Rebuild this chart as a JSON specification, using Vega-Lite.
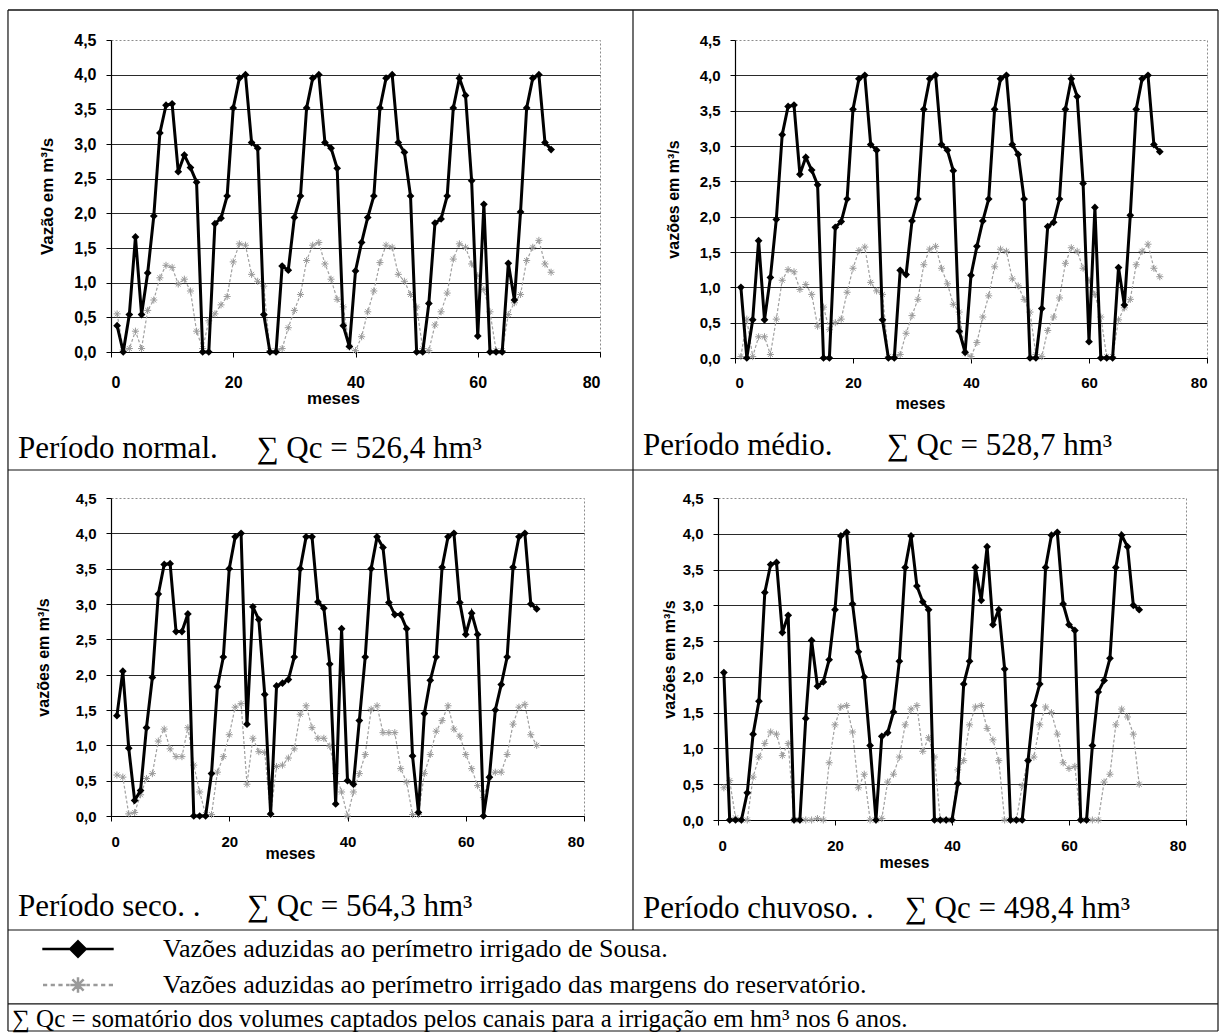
{
  "$schema": "https://vega.github.io/schema/vega-lite/v6.json",
  "autosize": "none",
  "padding": {"left": 111, "top": 40, "right": 1110, "bottom": 993},
  "background": "white",
  "config": {
    "locale": {"number": {"decimal": ",", "thousands": ".", "grouping": [3], "currency": ["", ""]}},
    "font": "Liberation Sans",
    "view": {"stroke": "#8c8c8c", "strokeDash": [2, 2], "strokeWidth": 1},
    "axis": {"labelFont": "Liberation Sans", "labelFontWeight": "bold", "labelColor": "#000", "labelFontSize": 15, "labelOverlap": false, "titleFont": "Liberation Sans", "titleFontWeight": "bold", "titleColor": "#000", "titleFontSize": 16, "domainColor": "#000", "domainWidth": 1.2, "tickColor": "#000", "tickSize": 5, "gridColor": "#2a2a2a", "gridWidth": 1},
    "title": {"font": "Liberation Serif", "fontSize": 31, "fontWeight": "normal", "color": "#000"},
    "legend": {"orient": "none", "legendX": -99, "legendY": 893.5, "symbolSize": 784, "symbolStrokeWidth": 2.5, "symbolOffset": 50.5, "labelOffset": 69.5, "labelFont": "Liberation Serif", "labelFontSize": 26, "labelColor": "#000", "labelLimit": 1200, "rowPadding": 7, "titleOrient": "bottom", "titleAnchor": "start", "titleFont": "Liberation Serif", "titleFontSize": 25, "titleFontWeight": "normal", "titleColor": "#000", "titleLimit": 1200, "titlePadding": 8, "symbolOpacity": 1}
  },
  "datasets": {
    "normal": [
      {"m":1,"sousa":0.38,"margens":0.55},{"m":2,"sousa":0,"margens":0.03},{"m":3,"sousa":0.54,"margens":0.05},{"m":4,"sousa":1.66,"margens":0.3},{"m":5,"sousa":0.54,"margens":0.05},{"m":6,"sousa":1.14,"margens":0.6},{"m":7,"sousa":1.96,"margens":0.75},{"m":8,"sousa":3.16,"margens":1.07},{"m":9,"sousa":3.56,"margens":1.25},{"m":10,"sousa":3.58,"margens":1.22},{"m":11,"sousa":2.6,"margens":0.98},{"m":12,"sousa":2.84,"margens":1.05},
      {"m":13,"sousa":2.66,"margens":0.88},{"m":14,"sousa":2.45,"margens":0.3},{"m":15,"sousa":0,"margens":0.05},{"m":16,"sousa":0,"margens":0.45},{"m":17,"sousa":1.85,"margens":0.55},{"m":18,"sousa":1.93,"margens":0.68},{"m":19,"sousa":2.25,"margens":0.8},{"m":20,"sousa":3.52,"margens":1.3},{"m":21,"sousa":3.95,"margens":1.56},{"m":22,"sousa":4.0,"margens":1.54},{"m":23,"sousa":3.02,"margens":1.12},{"m":24,"sousa":2.94,"margens":1.02},
      {"m":25,"sousa":0.54,"margens":0.95},{"m":26,"sousa":0,"margens":0.02},{"m":27,"sousa":0,"margens":0.02},{"m":28,"sousa":1.24,"margens":0.05},{"m":29,"sousa":1.18,"margens":0.35},{"m":30,"sousa":1.94,"margens":0.6},{"m":31,"sousa":2.25,"margens":0.83},{"m":32,"sousa":3.52,"margens":1.32},{"m":33,"sousa":3.95,"margens":1.54},{"m":34,"sousa":4.0,"margens":1.58},{"m":35,"sousa":3.02,"margens":1.27},{"m":36,"sousa":2.94,"margens":1.05},
      {"m":37,"sousa":2.65,"margens":0.76},{"m":38,"sousa":0.38,"margens":0.65},{"m":39,"sousa":0.08,"margens":0.07},{"m":40,"sousa":1.17,"margens":0.02},{"m":41,"sousa":1.58,"margens":0.22},{"m":42,"sousa":1.94,"margens":0.58},{"m":43,"sousa":2.25,"margens":0.88},{"m":44,"sousa":3.52,"margens":1.29},{"m":45,"sousa":3.95,"margens":1.54},{"m":46,"sousa":4.0,"margens":1.51},{"m":47,"sousa":3.02,"margens":1.12},{"m":48,"sousa":2.88,"margens":1.02},
      {"m":49,"sousa":2.25,"margens":0.83},{"m":50,"sousa":0,"margens":0.65},{"m":51,"sousa":0,"margens":0.05},{"m":52,"sousa":0.7,"margens":0.02},{"m":53,"sousa":1.86,"margens":0.39},{"m":54,"sousa":1.92,"margens":0.58},{"m":55,"sousa":2.25,"margens":0.85},{"m":56,"sousa":3.52,"margens":1.34},{"m":57,"sousa":3.95,"margens":1.56},{"m":58,"sousa":3.7,"margens":1.51},{"m":59,"sousa":2.47,"margens":1.27},{"m":60,"sousa":0.23,"margens":1.1},
      {"m":61,"sousa":2.13,"margens":0.9},{"m":62,"sousa":0,"margens":0.58},{"m":63,"sousa":0,"margens":0.02},{"m":64,"sousa":0,"margens":0.02},{"m":65,"sousa":1.28,"margens":0.54},{"m":66,"sousa":0.75,"margens":0.71},{"m":67,"sousa":2.02,"margens":0.83},{"m":68,"sousa":3.52,"margens":1.32},{"m":69,"sousa":3.95,"margens":1.51},{"m":70,"sousa":4.0,"margens":1.61},{"m":71,"sousa":3.02,"margens":1.27},{"m":72,"sousa":2.92,"margens":1.15}
    ],
    "medio": [
      {"m":1,"sousa":1.0,"margens":0.02},{"m":2,"sousa":0,"margens":0.55},{"m":3,"sousa":0.54,"margens":0.02},{"m":4,"sousa":1.66,"margens":0.3},{"m":5,"sousa":0.54,"margens":0.3},{"m":6,"sousa":1.14,"margens":0.05},{"m":7,"sousa":1.96,"margens":0.55},{"m":8,"sousa":3.16,"margens":1.1},{"m":9,"sousa":3.56,"margens":1.25},{"m":10,"sousa":3.58,"margens":1.22},{"m":11,"sousa":2.6,"margens":0.97},{"m":12,"sousa":2.84,"margens":1.04},
      {"m":13,"sousa":2.66,"margens":0.9},{"m":14,"sousa":2.45,"margens":0.45},{"m":15,"sousa":0,"margens":0.72},{"m":16,"sousa":0,"margens":0.4},{"m":17,"sousa":1.85,"margens":0.5},{"m":18,"sousa":1.93,"margens":0.55},{"m":19,"sousa":2.25,"margens":0.93},{"m":20,"sousa":3.52,"margens":1.27},{"m":21,"sousa":3.95,"margens":1.52},{"m":22,"sousa":4.0,"margens":1.57},{"m":23,"sousa":3.02,"margens":1.07},{"m":24,"sousa":2.94,"margens":0.95},
      {"m":25,"sousa":0.54,"margens":0.9},{"m":26,"sousa":0,"margens":0.02},{"m":27,"sousa":0,"margens":0.02},{"m":28,"sousa":1.24,"margens":0.05},{"m":29,"sousa":1.18,"margens":0.35},{"m":30,"sousa":1.94,"margens":0.6},{"m":31,"sousa":2.25,"margens":0.83},{"m":32,"sousa":3.52,"margens":1.32},{"m":33,"sousa":3.95,"margens":1.54},{"m":34,"sousa":4.0,"margens":1.58},{"m":35,"sousa":3.02,"margens":1.27},{"m":36,"sousa":2.94,"margens":1.05},
      {"m":37,"sousa":2.65,"margens":0.76},{"m":38,"sousa":0.38,"margens":0.65},{"m":39,"sousa":0.08,"margens":0.07},{"m":40,"sousa":1.17,"margens":0.02},{"m":41,"sousa":1.58,"margens":0.22},{"m":42,"sousa":1.94,"margens":0.58},{"m":43,"sousa":2.25,"margens":0.88},{"m":44,"sousa":3.52,"margens":1.29},{"m":45,"sousa":3.95,"margens":1.54},{"m":46,"sousa":4.0,"margens":1.51},{"m":47,"sousa":3.02,"margens":1.12},{"m":48,"sousa":2.88,"margens":1.02},
      {"m":49,"sousa":2.25,"margens":0.83},{"m":50,"sousa":0,"margens":0.65},{"m":51,"sousa":0,"margens":0.05},{"m":52,"sousa":0.7,"margens":0.02},{"m":53,"sousa":1.86,"margens":0.39},{"m":54,"sousa":1.92,"margens":0.58},{"m":55,"sousa":2.25,"margens":0.85},{"m":56,"sousa":3.52,"margens":1.34},{"m":57,"sousa":3.95,"margens":1.56},{"m":58,"sousa":3.7,"margens":1.51},{"m":59,"sousa":2.47,"margens":1.27},{"m":60,"sousa":0.23,"margens":1.1},
      {"m":61,"sousa":2.13,"margens":0.9},{"m":62,"sousa":0,"margens":0.58},{"m":63,"sousa":0,"margens":0.02},{"m":64,"sousa":0,"margens":0.02},{"m":65,"sousa":1.28,"margens":0.54},{"m":66,"sousa":0.75,"margens":0.71},{"m":67,"sousa":2.02,"margens":0.83},{"m":68,"sousa":3.52,"margens":1.32},{"m":69,"sousa":3.95,"margens":1.51},{"m":70,"sousa":4.0,"margens":1.61},{"m":71,"sousa":3.02,"margens":1.27},{"m":72,"sousa":2.92,"margens":1.15}
    ],
    "seco": [
      {"m":1,"sousa":1.42,"margens":0.58},{"m":2,"sousa":2.05,"margens":0.55},{"m":3,"sousa":0.96,"margens":0.03},{"m":4,"sousa":0.22,"margens":0.05},{"m":5,"sousa":0.36,"margens":0.3},{"m":6,"sousa":1.25,"margens":0.53},{"m":7,"sousa":1.96,"margens":0.6},{"m":8,"sousa":3.14,"margens":1.06},{"m":9,"sousa":3.56,"margens":1.23},{"m":10,"sousa":3.57,"margens":0.95},{"m":11,"sousa":2.61,"margens":0.84},{"m":12,"sousa":2.61,"margens":0.84},
      {"m":13,"sousa":2.86,"margens":1.25},{"m":14,"sousa":0,"margens":0.72},{"m":15,"sousa":0,"margens":0.34},{"m":16,"sousa":0,"margens":0.02},{"m":17,"sousa":0.6,"margens":0.02},{"m":18,"sousa":1.83,"margens":0.62},{"m":19,"sousa":2.25,"margens":0.84},{"m":20,"sousa":3.5,"margens":1.15},{"m":21,"sousa":3.95,"margens":1.54},{"m":22,"sousa":4.0,"margens":1.59},{"m":23,"sousa":1.3,"margens":0.45},{"m":24,"sousa":2.96,"margens":1.1},
      {"m":25,"sousa":2.78,"margens":0.91},{"m":26,"sousa":1.72,"margens":0.9},{"m":27,"sousa":0.03,"margens":0.02},{"m":28,"sousa":1.84,"margens":0.7},{"m":29,"sousa":1.88,"margens":0.72},{"m":30,"sousa":1.93,"margens":0.82},{"m":31,"sousa":2.25,"margens":0.95},{"m":32,"sousa":3.5,"margens":1.44},{"m":33,"sousa":3.95,"margens":1.56},{"m":34,"sousa":3.95,"margens":1.25},{"m":35,"sousa":3.03,"margens":1.1},{"m":36,"sousa":2.94,"margens":1.1},
      {"m":37,"sousa":2.15,"margens":0.99},{"m":38,"sousa":0.17,"margens":0.6},{"m":39,"sousa":2.65,"margens":0.34},{"m":40,"sousa":0.5,"margens":0},{"m":41,"sousa":0.45,"margens":0.34},{"m":42,"sousa":1.35,"margens":0.6},{"m":43,"sousa":2.25,"margens":0.87},{"m":44,"sousa":3.5,"margens":1.51},{"m":45,"sousa":3.95,"margens":1.56},{"m":46,"sousa":3.8,"margens":1.18},{"m":47,"sousa":3.02,"margens":1.18},{"m":48,"sousa":2.85,"margens":1.18},
      {"m":49,"sousa":2.85,"margens":0.67},{"m":50,"sousa":2.65,"margens":0.48},{"m":51,"sousa":0.85,"margens":0.02},{"m":52,"sousa":0.05,"margens":0.02},{"m":53,"sousa":1.45,"margens":0.6},{"m":54,"sousa":1.92,"margens":0.87},{"m":55,"sousa":2.25,"margens":1.2},{"m":56,"sousa":3.52,"margens":1.35},{"m":57,"sousa":3.95,"margens":1.56},{"m":58,"sousa":4.0,"margens":1.23},{"m":59,"sousa":3.02,"margens":1.13},{"m":60,"sousa":2.57,"margens":0.87},
      {"m":61,"sousa":2.87,"margens":0.67},{"m":62,"sousa":2.57,"margens":0.43},{"m":63,"sousa":0,"margens":0.26},{"m":64,"sousa":0.55,"margens":0.55},{"m":65,"sousa":1.5,"margens":0.62},{"m":66,"sousa":1.86,"margens":0.62},{"m":67,"sousa":2.25,"margens":0.87},{"m":68,"sousa":3.52,"margens":1.3},{"m":69,"sousa":3.95,"margens":1.54},{"m":70,"sousa":4.0,"margens":1.58},{"m":71,"sousa":3.0,"margens":1.15},{"m":72,"sousa":2.93,"margens":1.0}
    ],
    "chuvoso": [
      {"m":1,"sousa":2.06,"margens":0.45},{"m":2,"sousa":0,"margens":0.55},{"m":3,"sousa":0,"margens":0.03},{"m":4,"sousa":0,"margens":0},{"m":5,"sousa":0.38,"margens":0},{"m":6,"sousa":1.2,"margens":0.6},{"m":7,"sousa":1.66,"margens":0.88},{"m":8,"sousa":3.18,"margens":1.07},{"m":9,"sousa":3.57,"margens":1.23},{"m":10,"sousa":3.6,"margens":1.2},{"m":11,"sousa":2.62,"margens":0.9},{"m":12,"sousa":2.86,"margens":1.07},
      {"m":13,"sousa":0,"margens":0},{"m":14,"sousa":0,"margens":0},{"m":15,"sousa":1.42,"margens":0},{"m":16,"sousa":2.51,"margens":0},{"m":17,"sousa":1.87,"margens":0.02},{"m":18,"sousa":1.93,"margens":0},{"m":19,"sousa":2.24,"margens":0.8},{"m":20,"sousa":2.94,"margens":1.33},{"m":21,"sousa":3.97,"margens":1.58},{"m":22,"sousa":4.02,"margens":1.6},{"m":23,"sousa":3.02,"margens":1.23},{"m":24,"sousa":2.35,"margens":0.45},
      {"m":25,"sousa":2.0,"margens":0.64},{"m":26,"sousa":1.04,"margens":0},{"m":27,"sousa":0,"margens":0},{"m":28,"sousa":1.17,"margens":0.02},{"m":29,"sousa":1.22,"margens":0.53},{"m":30,"sousa":1.51,"margens":0.64},{"m":31,"sousa":2.22,"margens":0.88},{"m":32,"sousa":3.53,"margens":1.33},{"m":33,"sousa":3.97,"margens":1.55},{"m":34,"sousa":3.27,"margens":1.6},{"m":35,"sousa":3.05,"margens":0.96},{"m":36,"sousa":2.94,"margens":1.15},
      {"m":37,"sousa":0,"margens":0.88},{"m":38,"sousa":0,"margens":0},{"m":39,"sousa":0,"margens":0},{"m":40,"sousa":0,"margens":0},{"m":41,"sousa":0.51,"margens":0.7},{"m":42,"sousa":1.9,"margens":0.83},{"m":43,"sousa":2.22,"margens":1.33},{"m":44,"sousa":3.53,"margens":1.58},{"m":45,"sousa":3.07,"margens":1.6},{"m":46,"sousa":3.82,"margens":1.28},{"m":47,"sousa":2.73,"margens":1.12},{"m":48,"sousa":2.94,"margens":0.83},
      {"m":49,"sousa":2.11,"margens":0},{"m":50,"sousa":0,"margens":0},{"m":51,"sousa":0,"margens":0},{"m":52,"sousa":0,"margens":0.48},{"m":53,"sousa":0.83,"margens":0.83},{"m":54,"sousa":1.6,"margens":0.88},{"m":55,"sousa":1.9,"margens":1.33},{"m":56,"sousa":3.53,"margens":1.58},{"m":57,"sousa":3.98,"margens":1.5},{"m":58,"sousa":4.02,"margens":1.2},{"m":59,"sousa":3.02,"margens":0.8},{"m":60,"sousa":2.73,"margens":0.72},
      {"m":61,"sousa":2.65,"margens":0.75},{"m":62,"sousa":0,"margens":0},{"m":63,"sousa":0,"margens":0},{"m":64,"sousa":1.04,"margens":0},{"m":65,"sousa":1.79,"margens":0},{"m":66,"sousa":1.95,"margens":0.53},{"m":67,"sousa":2.26,"margens":0.64},{"m":68,"sousa":3.53,"margens":1.33},{"m":69,"sousa":3.98,"margens":1.55},{"m":70,"sousa":3.82,"margens":1.44},{"m":71,"sousa":3.0,"margens":1.2},{"m":72,"sousa":2.94,"margens":0.5}
    ]
  },
  "spacing": 458,
  "bounds": "flush",
  "vconcat": [
    {
      "hconcat": [
        {
          "width": 489, "height": 312,
          "data": {"name": "normal"},
          "transform": [{"fold": ["sousa", "margens"], "as": ["s", "v"]}],
          "title": {"text": "Período normal.\u00a0\u00a0\u00a0\u00a0\u00a0∑ Qc = 526,4 hm³", "orient": "bottom", "anchor": "start", "frame": "group", "offset": 51.5, "dx": -93, "baseline": "alphabetic"},
          "encoding": {
            "x": {"field": "m", "type": "quantitative", "title": "meses", "scale": {"domain": [0, 80], "nice": false}, "axis": {"values": [0, 20, 40, 60, 80], "format": "d", "grid": false, "labelPadding": 17, "labelFontSize": 16, "titleFontSize": 17, "titleX": 222, "titleY": 46, "titleBaseline": "middle", "titleAlign": "center"}},
            "y": {"field": "v", "type": "quantitative", "title": "Vazão em m³/s", "scale": {"domain": [0, 4.5], "nice": false}, "axis": {"values": [0, 0.5, 1, 1.5, 2, 2.5, 3, 3.5, 4, 4.5], "format": ".1f", "grid": true, "gridOpacity": {"condition": {"test": "datum.value >= 4.5", "value": 0}, "value": 1}, "labelPadding": 10, "labelFontSize": 16, "titleFontSize": 17, "titleX": -64, "titleBaseline": "middle"}}
          },
          "layer": [
            {"transform": [{"filter": "datum.s == 'margens'"}], "mark": {"type": "line", "color": "#a0a0a0", "strokeWidth": 1.2, "strokeDash": [3, 2]}},
            {"transform": [{"filter": "datum.s == 'margens'"}], "mark": {"type": "point", "shape": "M0,-1L0,1M-1,0L1,0M-0.7,-0.7L0.7,0.7M-0.7,0.7L0.7,-0.7", "size": 50, "filled": false, "stroke": "#9a9a9a", "strokeWidth": 1, "opacity": 1}},
            {"transform": [{"filter": "datum.s == 'sousa'"}], "mark": {"type": "line", "color": "#000", "strokeWidth": 3}},
            {"transform": [{"filter": "datum.s == 'sousa'"}], "mark": {"type": "point", "shape": "diamond", "size": 60, "filled": true, "color": "#000", "opacity": 1}}
          ]
        },
        {
          "width": 472, "height": 318,
          "data": {"name": "medio"},
          "transform": [{"fold": ["sousa", "margens"], "as": ["s", "v"]}],
          "title": {"text": "Período médio.\u00a0\u00a0\u00a0\u00a0\u00a0\u00a0\u00a0∑ Qc = 528,7 hm³", "orient": "bottom", "anchor": "start", "frame": "group", "offset": 44, "dx": -92, "baseline": "alphabetic"},
          "encoding": {
            "x": {"field": "m", "type": "quantitative", "title": "meses", "scale": {"domain": [0, 80], "nice": false}, "axis": {"values": [0, 20, 40, 60, 80], "format": "d", "grid": false, "labelPadding": 12, "labelFontSize": 15, "titleFontSize": 16, "titleX": 185, "titleY": 45, "titleBaseline": "middle", "titleAlign": "center"}},
            "y": {"field": "v", "type": "quantitative", "title": "vazões em m³/s", "scale": {"domain": [0, 4.5], "nice": false}, "axis": {"values": [0, 0.5, 1, 1.5, 2, 2.5, 3, 3.5, 4, 4.5], "format": ".1f", "grid": true, "gridOpacity": {"condition": {"test": "datum.value >= 4.5", "value": 0}, "value": 1}, "labelPadding": 10, "titleX": -62, "titleBaseline": "middle"}}
          },
          "layer": [
            {"transform": [{"filter": "datum.s == 'margens'"}], "mark": {"type": "line", "color": "#a0a0a0", "strokeWidth": 1.2, "strokeDash": [3, 2]}},
            {"transform": [{"filter": "datum.s == 'margens'"}], "mark": {"type": "point", "shape": "M0,-1L0,1M-1,0L1,0M-0.7,-0.7L0.7,0.7M-0.7,0.7L0.7,-0.7", "size": 50, "filled": false, "stroke": "#9a9a9a", "strokeWidth": 1, "opacity": 1}},
            {"transform": [{"filter": "datum.s == 'sousa'"}], "mark": {"type": "line", "color": "#000", "strokeWidth": 3}},
            {"transform": [{"filter": "datum.s == 'sousa'"}], "mark": {"type": "point", "shape": "diamond", "size": 60, "filled": true, "color": "#000", "opacity": 1}}
          ]
        }
      ],
      "spacing": 135,
      "bounds": "flush"
    },
    {
      "hconcat": [
        {
          "width": 473, "height": 318,
          "data": {"name": "seco"},
          "transform": [{"fold": ["sousa", "margens"], "as": ["s", "v"]}],
          "title": {"text": "Período seco. .\u00a0\u00a0\u00a0\u00a0\u00a0\u00a0∑ Qc = 564,3 hm³", "orient": "bottom", "anchor": "start", "frame": "group", "offset": 55, "dx": -93, "baseline": "alphabetic"},
          "encoding": {
            "x": {"field": "m", "type": "quantitative", "title": "meses", "scale": {"domain": [0, 80], "nice": false}, "axis": {"values": [0, 20, 40, 60, 80], "format": "d", "grid": false, "labelPadding": 13, "labelFontSize": 15, "titleFontSize": 16, "titleX": 179, "titleY": 37, "titleBaseline": "middle", "titleAlign": "center"}},
            "y": {"field": "v", "type": "quantitative", "title": "vazões em m³/s", "scale": {"domain": [0, 4.5], "nice": false}, "axis": {"values": [0, 0.5, 1, 1.5, 2, 2.5, 3, 3.5, 4, 4.5], "format": ".1f", "grid": true, "gridOpacity": {"condition": {"test": "datum.value >= 4.5", "value": 0}, "value": 1}, "labelPadding": 10, "titleX": -68, "titleBaseline": "middle"}}
          },
          "layer": [
            {"transform": [{"filter": "datum.s == 'margens'"}], "mark": {"type": "line", "color": "#a0a0a0", "strokeWidth": 1.2, "strokeDash": [3, 2]}},
            {"transform": [{"filter": "datum.s == 'margens'"}], "mark": {"type": "point", "shape": "M0,-1L0,1M-1,0L1,0M-0.7,-0.7L0.7,0.7M-0.7,0.7L0.7,-0.7", "size": 50, "filled": false, "stroke": "#9a9a9a", "strokeWidth": 1, "opacity": 1}},
            {"transform": [{"filter": "datum.s == 'sousa'"}], "mark": {"type": "line", "color": "#000", "strokeWidth": 3}},
            {"transform": [{"filter": "datum.s == 'sousa'"}], "mark": {"type": "point", "shape": "diamond", "size": 60, "filled": true, "color": "#000", "opacity": 1}},
            {
              "data": {"values": [{"s": "sousa"}, {"s": "margens"}]},
              "transform": [{"filter": "datum.s == 'nenhum'"}],
              "mark": {"type": "point", "filled": true},
              "encoding": {
                "x": {"datum": 0}, "y": {"datum": 0},
                "shape": {"field": "s", "type": "nominal", "title": "∑ Qc = somatório dos volumes captados pelos canais para a irrigação em hm³ nos 6 anos.", "scale": {"domain": ["sousa", "margens"], "range": ["M-2.55,0L2.55,0M0,-0.55L0.55,0L0,0.55L-0.55,0Z", "M-2.5,0L-2.2,0M-1.95,0L-1.65,0M-1.4,0L-1.1,0M-0.85,0L-0.6,0M0.6,0L0.85,0M1.1,0L1.4,0M1.65,0L1.95,0M2.2,0L2.5,0M0,-0.55L0,0.55M-0.55,0L0.55,0M-0.4,-0.4L0.4,0.4M-0.4,0.4L0.4,-0.4"]}, "legend": {"labelExpr": "datum.value == 'sousa' ? 'Vazões aduzidas ao perímetro irrigado de Sousa.' : 'Vazões aduzidas ao perímetro irrigado das margens do reservatório.'"}},
                "fill": {"field": "s", "type": "nominal", "title": "∑ Qc = somatório dos volumes captados pelos canais para a irrigação em hm³ nos 6 anos.", "scale": {"domain": ["sousa", "margens"], "range": ["#000", "#9a9a9a"]}},
                "stroke": {"field": "s", "type": "nominal", "title": "∑ Qc = somatório dos volumes captados pelos canais para a irrigação em hm³ nos 6 anos.", "scale": {"domain": ["sousa", "margens"], "range": ["#000", "#9a9a9a"]}}
              }
            }
          ]
        },
        {
          "width": 468, "height": 322,
          "data": {"name": "chuvoso"},
          "transform": [{"fold": ["sousa", "margens"], "as": ["s", "v"]}],
          "title": {"text": "Período chuvoso. .\u00a0\u00a0\u00a0\u00a0∑ Qc = 498,4 hm³", "orient": "bottom", "anchor": "start", "frame": "group", "offset": -113.6, "dx": -75, "baseline": "alphabetic"},
          "encoding": {
            "x": {"field": "m", "type": "quantitative", "title": "meses", "scale": {"domain": [0, 80], "nice": false}, "axis": {"values": [0, 20, 40, 60, 80], "format": "d", "grid": false, "labelPadding": 13, "labelFontSize": 15, "titleFontSize": 16, "titleX": 186, "titleY": 42, "titleBaseline": "middle", "titleAlign": "center"}},
            "y": {"field": "v", "type": "quantitative", "title": "vazões em m³/s", "scale": {"domain": [0, 4.5], "nice": false}, "axis": {"values": [0, 0.5, 1, 1.5, 2, 2.5, 3, 3.5, 4, 4.5], "format": ".1f", "grid": true, "gridOpacity": {"condition": {"test": "datum.value >= 4.5", "value": 0}, "value": 1}, "labelPadding": 10, "titleX": -49, "titleBaseline": "middle"}}
          },
          "layer": [
            {"transform": [{"filter": "datum.s == 'margens'"}], "mark": {"type": "line", "color": "#a0a0a0", "strokeWidth": 1.2, "strokeDash": [3, 2]}},
            {"transform": [{"filter": "datum.s == 'margens'"}], "mark": {"type": "point", "shape": "M0,-1L0,1M-1,0L1,0M-0.7,-0.7L0.7,0.7M-0.7,0.7L0.7,-0.7", "size": 50, "filled": false, "stroke": "#9a9a9a", "strokeWidth": 1, "opacity": 1}},
            {"transform": [{"filter": "datum.s == 'sousa'"}], "mark": {"type": "line", "color": "#000", "strokeWidth": 3}},
            {"transform": [{"filter": "datum.s == 'sousa'"}], "mark": {"type": "point", "shape": "diamond", "size": 60, "filled": true, "color": "#000", "opacity": 1}},
            {"transform": [{"filter": "datum.m == 1 && datum.s == 'sousa'"}], "mark": {"type": "rule", "color": "#111", "strokeWidth": 1.3, "clip": false}, "encoding": {"x": {"datum": -121.37}, "x2": {"datum": 85.47}, "y": {"datum": 11.32}}},
            {"transform": [{"filter": "datum.m == 1 && datum.s == 'sousa'"}], "mark": {"type": "rule", "color": "#111", "strokeWidth": 1.2, "clip": false}, "encoding": {"x": {"datum": -121.37}, "x2": {"datum": 85.47}, "y": {"datum": 4.891}}},
            {"transform": [{"filter": "datum.m == 1 && datum.s == 'sousa'"}], "mark": {"type": "rule", "color": "#111", "strokeWidth": 1.2, "clip": false}, "encoding": {"x": {"datum": -121.37}, "x2": {"datum": 85.47}, "y": {"datum": -1.537}}},
            {"transform": [{"filter": "datum.m == 1 && datum.s == 'sousa'"}], "mark": {"type": "rule", "color": "#111", "strokeWidth": 1.2, "clip": false}, "encoding": {"x": {"datum": -121.37}, "x2": {"datum": 85.47}, "y": {"datum": -2.571}}},
            {"transform": [{"filter": "datum.m == 1 && datum.s == 'sousa'"}], "mark": {"type": "rule", "color": "#111", "strokeWidth": 1.2, "clip": false}, "encoding": {"x": {"datum": -121.37}, "x2": {"datum": 85.47}, "y": {"datum": -2.949}}},
            {"transform": [{"filter": "datum.m == 1 && datum.s == 'sousa'"}], "mark": {"type": "rule", "color": "#111", "strokeWidth": 1.2, "clip": false}, "encoding": {"x": {"datum": -121.37}, "y": {"datum": 11.32}, "y2": {"datum": -2.949}}},
            {"transform": [{"filter": "datum.m == 1 && datum.s == 'sousa'"}], "mark": {"type": "rule", "color": "#111", "strokeWidth": 1.2, "clip": false}, "encoding": {"x": {"datum": 85.47}, "y": {"datum": 11.32}, "y2": {"datum": -2.949}}},
            {"transform": [{"filter": "datum.m == 1 && datum.s == 'sousa'"}], "mark": {"type": "rule", "color": "#111", "strokeWidth": 1.2, "clip": false}, "encoding": {"x": {"datum": -14.53}, "y": {"datum": 11.32}, "y2": {"datum": -1.537}}}
          ]
        }
      ],
      "spacing": 134,
      "bounds": "flush"
    }
  ]
}
